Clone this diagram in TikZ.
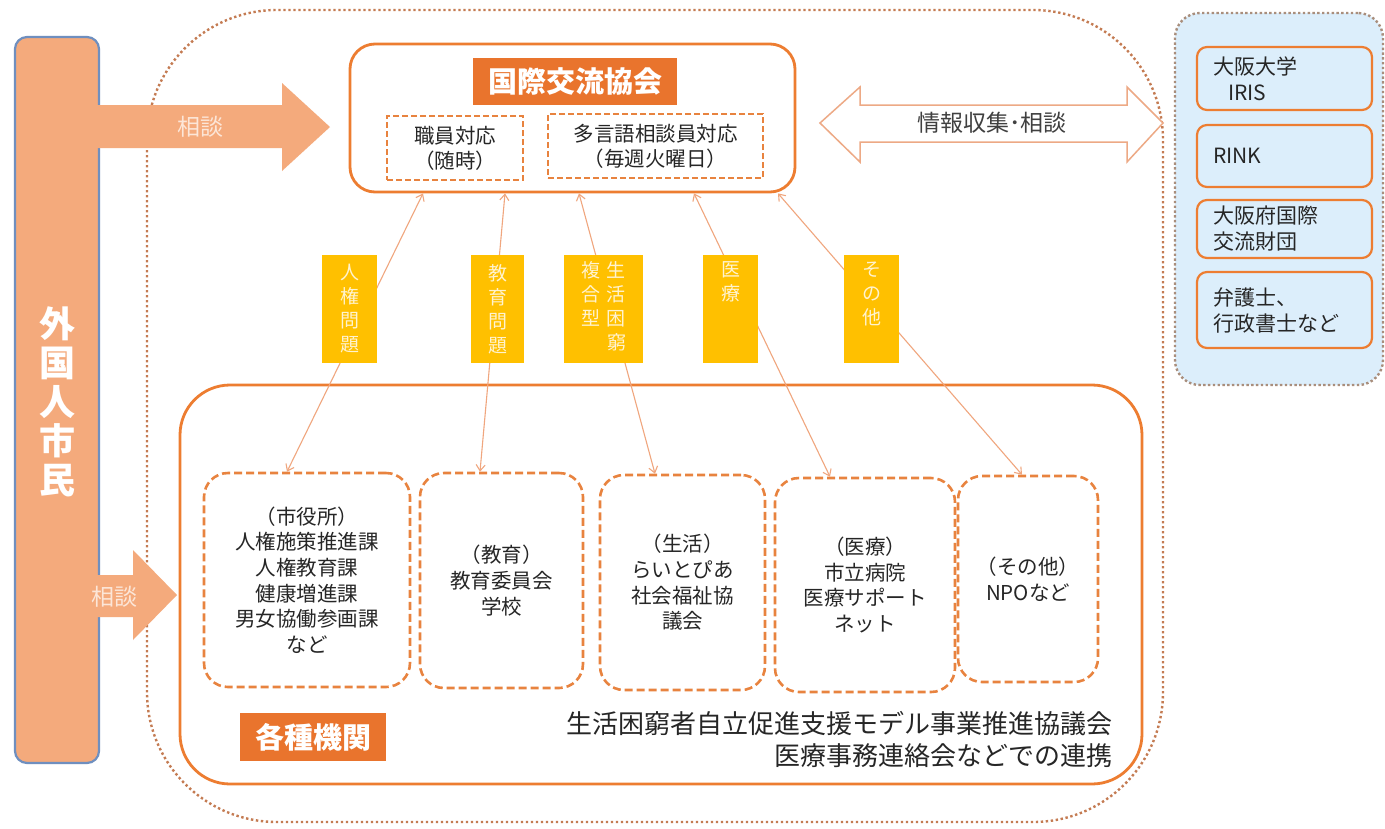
\documentclass[tikz,border=0pt]{standalone}
\usepackage{fontspec}
\setmainfont{Noto Sans CJK JP}
\usetikzlibrary{arrows.meta}
\definecolor{salmon}{HTML}{F4AA7C}
\definecolor{barline}{HTML}{6F8FBF}
\definecolor{org}{HTML}{ED7D31}
\definecolor{titleorg}{HTML}{E9742D}
\definecolor{dashorg}{HTML}{E8833F}
\definecolor{yel}{HTML}{FFC000}
\definecolor{yeltxt}{HTML}{FFF3CF}
\definecolor{lblue}{HTML}{DCEEFB}
\definecolor{txt}{HTML}{262626}
\definecolor{thinc}{HTML}{F0A67E}
\definecolor{dotc}{HTML}{C47B52}
\definecolor{paneldot}{HTML}{A98E7C}
\definecolor{arrtxt}{HTML}{FCE6D8}
\definecolor{dblc}{HTML}{EDA985}
\definecolor{graytxt}{HTML}{404040}
\begin{document}
\begin{tikzpicture}[x=1pt,y=-1pt,
  dbox/.style={draw=dashorg, line width=2.6pt, dash pattern=on 8pt off 4pt, rounded corners=24pt, fill=white, inner sep=0pt, text=txt, align=center, font=\fontsize{20.5}{25.6}\selectfont},
  subbox/.style={draw=dashorg, line width=2pt, dash pattern=on 6pt off 3pt, fill=white, inner sep=0pt, text=txt, align=center, font=\fontsize{20.5}{25}\selectfont},
  ylab/.style={fill=yel, inner sep=0pt, text=yeltxt, align=center, font=\fontsize{19}{24}\selectfont, minimum height=108},
  rbox/.style={draw=org, line width=2.2pt, rounded corners=10pt, fill=lblue, inner xsep=16pt, inner ysep=0pt, text width=143pt, align=left, text=txt, font=\fontsize{21}{26}\selectfont},
  link/.style={draw=thinc, line width=1.1pt, {Straight Barb[length=6pt,width=9pt]}-{Straight Barb[length=6pt,width=9pt]}},
  blockarrow/.style={fill=salmon, draw=none},
  arrlabel/.style={text=arrtxt, font=\fontsize{23}{23}\selectfont},
  tagbox/.style={fill=titleorg, text=white, inner sep=0pt, font=\bfseries\fontsize{29}{29}\selectfont}
]
\useasboundingbox (0,0) rectangle (1385,828);
\fill[white] (0,0) rectangle (1385,828);

% outer dotted region
\draw[dotc, line width=2.4pt, dash pattern=on 2.4pt off 2.6pt, rounded corners=130pt] (147,10) rectangle (1163,822);

% right panel
\node[draw=paneldot, line width=2.4pt, dash pattern=on 2.4pt off 2.4pt, fill=lblue, rounded corners=25pt, minimum width=208, minimum height=372, inner sep=0pt] (panel) at (1279,199) {};
\node[rbox, minimum height=63] (r1) at (1284.5,78.5) {大阪大学\\\hspace*{15pt}IRIS};
\node[rbox, minimum height=62] (r2) at (1284.5,156) {RINK};
\node[rbox, minimum height=58] (r3) at (1284.5,229) {大阪府国際\\交流財団};
\node[rbox, minimum height=76] (r4) at (1284.5,310) {弁護士、\\行政書士など};

% left bar
\node[fill=salmon, draw=barline, line width=2.2pt, rounded corners=12pt, minimum width=84, minimum height=726, inner sep=0pt] (bar) at (57,400) {};
\node[text=white, align=center, font=\bfseries\fontsize{36}{39}\selectfont] (barlab) at (57,402) {外\\国\\人\\市\\民};

% block arrows
\fill[blockarrow] (97,105) -- (282,105) -- (282,83) -- (330,127) -- (282,171) -- (282,148) -- (97,148) -- cycle;
\node[arrlabel] (a1) at (200,127) {相談};
\fill[blockarrow] (97,575) -- (133,575) -- (133,550) -- (177,595) -- (133,640) -- (133,617) -- (97,617) -- cycle;
\node[arrlabel] (a2) at (114,597) {相談};

% top box
\node[draw=org, line width=2.8pt, rounded corners=25pt, minimum width=445, minimum height=148, fill=white, inner sep=0pt] (kk) at (572.5,118) {};
\node[tagbox, minimum width=204, minimum height=47] (kktitle) at (575,81.5) {国際交流協会};
\node[subbox, minimum width=136, minimum height=64] (s1) at (455,148) {職員対応\\（随時）};
\node[subbox, minimum width=215, minimum height=64] (s2) at (655.5,146) {多言語相談員対応\\（毎週火曜日）};

% double arrow
\draw[draw=dblc, line width=1.5pt, fill=white, line join=miter] (820,123) -- (860,87) -- (860,105) -- (1127,105) -- (1127,87) -- (1163,123) -- (1127,162) -- (1127,142) -- (860,142) -- (860,162) -- cycle;
\node[text=graytxt, font=\fontsize{23}{23}\selectfont] (info) at (992,123) {情報収集･相談};

% bottom box
\node[draw=org, line width=2.8pt, rounded corners=50pt, minimum width=962, minimum height=399, fill=white, inner sep=0pt] (kb) at (661,584.5) {};
\node[dbox, minimum width=206, minimum height=214] (b1) at (307,580) {（市役所）\\人権施策推進課\\人権教育課\\健康増進課\\男女協働参画課\\など};
\node[dbox, minimum width=163, minimum height=215] (b2) at (501.5,580.5) {（教育）\\教育委員会\\学校};
\node[dbox, minimum width=165, minimum height=215] (b3) at (682.5,582.5) {（生活）\\らいとぴあ\\社会福祉協\\議会};
\node[dbox, minimum width=180, minimum height=214] (b4) at (865,585) {（医療）\\市立病院\\医療サポート\\ネット};
\node[dbox, minimum width=140, minimum height=206] (b5) at (1028,579) {（その他）\\NPOなど};
\node[tagbox, minimum width=146, minimum height=48] (kbtitle) at (313,737) {各種機関};
\node[anchor=east, align=right, text=txt, font=\fontsize{26}{32}\selectfont] (note) at (1116,739) {生活困窮者自立促進支援モデル事業推進協議会\\医療事務連絡会などでの連携};

% links
\draw[link] ([xshift=-20pt]b1.north) -- ([xshift=-149.5pt]kk.south);
\draw[link] ([xshift=-21.5pt]b2.north) -- ([xshift=-67.5pt]kk.south);
\draw[link] ([xshift=-27.5pt]b3.north) -- ([xshift=6.5pt]kk.south);
\draw[link] ([xshift=-35pt]b4.north) -- ([xshift=121.5pt]kk.south);
\draw[link] ([xshift=-6pt]b5.north) -- ([xshift=205.5pt]kk.south);

% yellow labels
\node[ylab, minimum width=55] (y1) at (349.5,309) {人\\権\\問\\題};
\node[ylab, minimum width=53] (y2) at (497.5,309) {教\\育\\問\\題};
\node[ylab, minimum width=79] (y3) at (603.5,309) {\begin{tabular}{@{}c@{\hspace{7pt}}c@{}}複&生\\合&活\\型&困\\&窮\end{tabular}};
\node[ylab, minimum width=55] (y4) at (730.5,309) {医\\療\\\strut\\\strut};
\node[ylab, minimum width=55] (y5) at (871.5,309) {そ\\の\\他\\\strut};
\end{tikzpicture}
\end{document}
